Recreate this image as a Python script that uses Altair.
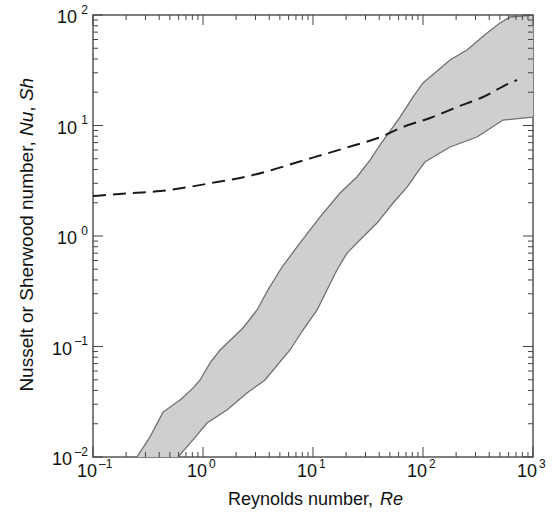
import altair as alt
import pandas as pd

W, H = 440, 442
FONT = "Liberation Sans"
TXT = "#111111"

# ---- data ----
upper_re = [0.251, 0.33, 0.433, 0.618, 0.811, 0.94, 1.16, 1.43, 2.31, 3.10, 3.90, 5.23,
            7.62, 11.6, 17.6, 25.1, 33, 40.6, 61.8, 81, 100, 176, 251, 382, 501, 618, 1000]
upper_nu = [0.01, 0.0152, 0.0255, 0.0328, 0.042, 0.0498, 0.071, 0.093, 0.147, 0.214, 0.325, 0.524,
            0.865, 1.49, 2.45, 3.42, 4.87, 6.66, 11.9, 18.1, 24.3, 39.2, 48.2, 68.7, 84.7, 95.9, 100]

lower_re = [0.593, 0.811, 1.087, 1.65, 2.51, 3.66, 6.18, 8.11, 10.9, 13.4, 16.5, 20.4,
            26.7, 38.2, 53.4, 71.6, 88.2, 104, 176, 310, 533, 1000]
lower_nu = [0.01, 0.0143, 0.0203, 0.0266, 0.0379, 0.0498, 0.093, 0.141, 0.214, 0.325, 0.492, 0.70,
            0.92, 1.31, 1.99, 2.77, 3.72, 4.67, 6.39, 7.87, 11.2, 11.9]

dash_re = [0.1, 0.23, 0.41, 0.73, 1.34, 2.17, 4.24, 7.3, 12.9, 22.6, 39, 65.8, 116, 204, 351, 618, 716]
dash_nu = [2.3, 2.45, 2.55, 2.77, 3.08, 3.35, 3.96, 4.67, 5.52, 6.52, 7.7, 9.7, 11.7, 14.7, 18.1, 24.3, 25.8]

x_major = [0.1, 1, 10, 100, 1000]
x_exp = ["\u20131", "0", "1", "2", "3"]
y_major = [0.01, 0.1, 1, 10, 100]
y_exp = ["\u20132", "\u20131", "0", "1", "2"]
x_minor = [m * d for d in [0.1, 1, 10, 100] for m in range(2, 10)]
y_minor = [m * d for d in [0.01, 0.1, 1, 10] for m in range(2, 10)]

x_title = ["Reynolds number,", "Re"]
y_title = ["Nusselt or Sherwood number,", "Nu", ",", "Sh"]

xs = alt.Scale(type="log", domain=[0.1, 1000], nice=False)
ys = alt.Scale(type="log", domain=[0.01, 100], nice=False)


def X(f="re"):
    return alt.X(f"{f}:Q", scale=xs, axis=None)


def Y(f="nu"):
    return alt.Y(f"{f}:Q", scale=ys, axis=None)


# ---- band polygon ----
poly_df = pd.DataFrame({"re": upper_re + lower_re[::-1], "nu": upper_nu + lower_nu[::-1]})
poly_df["i"] = list(range(len(poly_df)))

band = alt.Chart(poly_df).mark_line(fill="#cfcfd1", strokeOpacity=0, clip=True).encode(
    x=X(), y=Y(), order=alt.Order("i:Q"))

up_df = pd.DataFrame({"re": upper_re, "nu": upper_nu})
lo_df = pd.DataFrame({"re": lower_re, "nu": lower_nu})
edge_up = alt.Chart(up_df).mark_line(color="#707070", strokeWidth=1.3, clip=True).encode(x=X(), y=Y())
edge_lo = alt.Chart(lo_df).mark_line(color="#707070", strokeWidth=1.3, clip=True).encode(x=X(), y=Y())

dash_df = pd.DataFrame({"re": dash_re, "nu": dash_nu})
dash = alt.Chart(dash_df).mark_line(color="#1a1a1a", strokeWidth=2, strokeDash=[13, 7],
                                    interpolate="monotone", clip=True).encode(x=X(), y=Y())

# ---- inward ticks ----
TICK = "#444444"


def xticks(vals, y0, y1):
    return alt.Chart(pd.DataFrame({"re": vals})).mark_rule(color=TICK, strokeWidth=1).encode(
        x=X(), y=alt.value(y0), y2=alt.value(y1))


def yticks(vals, x0, x1):
    return alt.Chart(pd.DataFrame({"nu": vals})).mark_rule(color=TICK, strokeWidth=1).encode(
        y=Y(), x=alt.value(x0), x2=alt.value(x1))


MAJ, MIN = 10, 5
ticks = [
    xticks(x_major, H, H - MAJ), xticks(x_minor, H, H - MIN),
    xticks(x_major, 0, MAJ), xticks(x_minor, 0, MIN),
    yticks(y_major, 0, MAJ), yticks(y_minor, 0, MIN),
    yticks(y_major, W, W - MAJ), yticks(y_minor, W, W - MIN),
]

# ---- tick labels ----
xl_df = pd.DataFrame({"re": x_major, "b": ["10"] * len(x_major), "e": x_exp})
xl_base = alt.Chart(xl_df).mark_text(align="right", baseline="alphabetic", dx=4, font=FONT,
                                     fontSize=18, color=TXT).encode(x=X(), y=alt.value(462), text="b:N")
xl_exp = alt.Chart(xl_df).mark_text(align="left", baseline="alphabetic", dx=6, font=FONT,
                                    fontSize=12, color=TXT).encode(x=X(), y=alt.value(453), text="e:N")

yl_df = pd.DataFrame({"nu": y_major, "b": ["10"] * len(y_major), "e": y_exp})
yl_base_neg = alt.Chart(yl_df).transform_filter("datum.nu < 1").mark_text(
    align="right", baseline="alphabetic", dy=8, font=FONT, fontSize=18, color=TXT).encode(
    y=Y(), x=alt.value(-21), text="b:N")
yl_base_pos = alt.Chart(yl_df).transform_filter("datum.nu >= 1").mark_text(
    align="right", baseline="alphabetic", dy=8, font=FONT, fontSize=18, color=TXT).encode(
    y=Y(), x=alt.value(-16), text="b:N")
yl_exp = alt.Chart(yl_df).mark_text(align="right", baseline="alphabetic", dy=-1.5, font=FONT,
                                    fontSize=12, color=TXT).encode(y=Y(), x=alt.value(-5), text="e:N")

# ---- axis titles ----
xt_df = pd.DataFrame({"a": [x_title[0]], "b": [x_title[1]]})
xt1 = alt.Chart(xt_df).mark_text(align="right", baseline="alphabetic", font=FONT, fontSize=18,
                                 color=TXT).encode(x=alt.value(280), y=alt.value(490), text="a:N")
xt2 = alt.Chart(xt_df).mark_text(align="left", baseline="alphabetic", font=FONT, fontSize=18,
                                 fontStyle="italic", color=TXT).encode(x=alt.value(287), y=alt.value(490), text="b:N")

yt_df = pd.DataFrame({"a": [y_title[0]], "b": [y_title[1]], "c": [y_title[2]], "d": [y_title[3]]})


def ytxt(field, align, ypos, italic=False):
    kw = dict(align=align, baseline="alphabetic", angle=270, font=FONT, fontSize=19, color=TXT)
    if italic:
        kw["fontStyle"] = "italic"
    return alt.Chart(yt_df).mark_text(**kw).encode(x=alt.value(-60), y=alt.value(ypos), text=f"{field}:N")


yt = [ytxt("a", "right", 126.3), ytxt("b", "left", 121, True),
      ytxt("c", "left", 96.7), ytxt("d", "left", 86.1, True)]

chart = alt.layer(
    band, edge_up, edge_lo, dash, *ticks,
    xl_base, xl_exp, yl_base_neg, yl_base_pos, yl_exp, xt1, xt2, *yt
).properties(
    width=W, height=H,
    padding={"left": 93, "top": 15, "right": 22, "bottom": 61},
    autosize=alt.AutoSizeParams(type="none"),
    background="white",
).configure_view(stroke="#555555", strokeWidth=1.5)

chart.save("out.html", embed_options={"renderer": "svg", "actions": False})
